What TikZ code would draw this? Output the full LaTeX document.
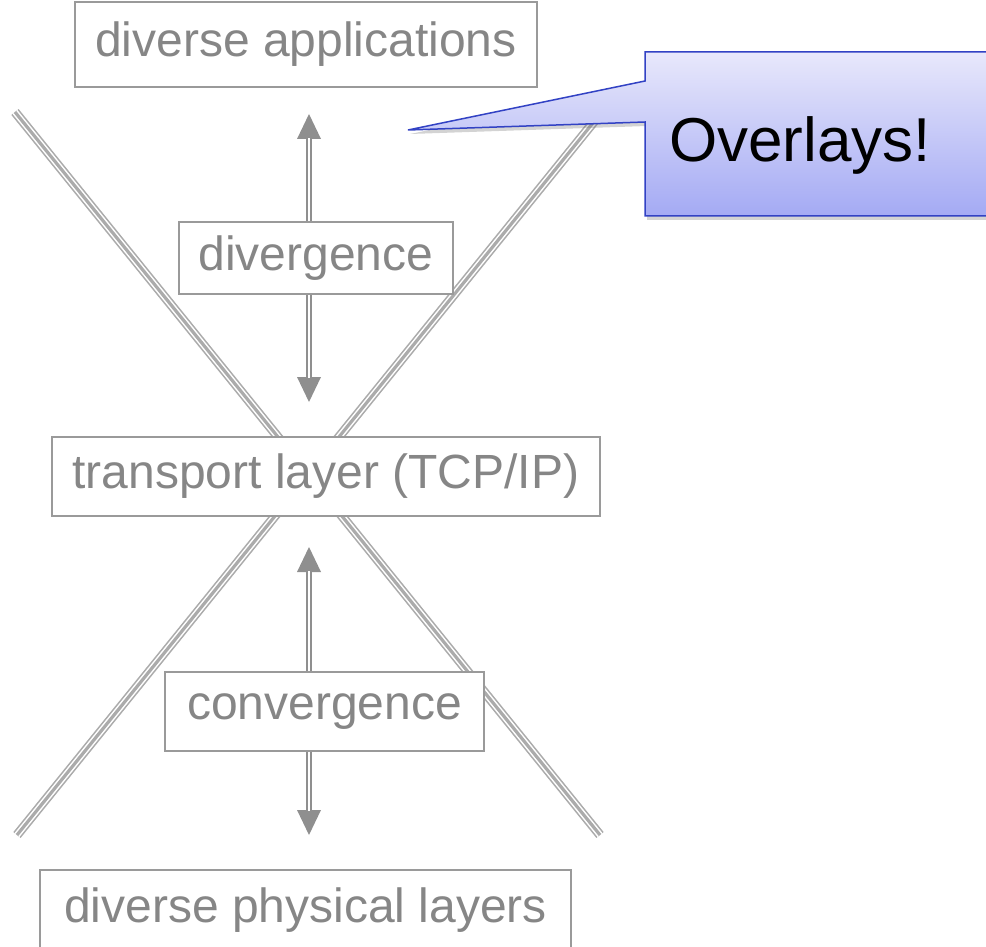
\documentclass[tikz,border=0pt]{standalone}
\usepackage{fontspec}
\setmainfont{Liberation Sans}
\usetikzlibrary{arrows.meta,shadows}
\definecolor{boxgray}{HTML}{9A9A9A}
\definecolor{txtgray}{HTML}{868686}
\definecolor{arrgray}{HTML}{8F8F8F}
\definecolor{xgray}{HTML}{ABABAB}
\definecolor{callborder}{HTML}{3242C4}
\definecolor{calltop}{HTML}{E8E8FB}
\definecolor{callbot}{HTML}{A4AAF4}
\tikzset{
  layerbox/.style={draw=boxgray, line width=1.6pt, fill=white, text=txtgray,
    font=\fontsize{48}{52}\selectfont, inner sep=0pt, anchor=center},
  xouter/.style={draw=xgray, line width=9.4pt},
  xinner/.style={draw=white, line width=6.2pt},
  xmid/.style={draw=xgray, line width=3.2pt},
  shaftout/.style={draw=arrgray, line width=6.5pt,
    -{Triangle[width=24pt,length=25pt,line width=0pt]}},
  shaftin/.style={draw=white, line width=2.4pt, shorten >=24pt},
}
\begin{document}
\begin{tikzpicture}[x=1pt,y=-1pt]
\useasboundingbox (0,0) rectangle (986,947);
% X lines
\coordinate (a1) at (15,112);
\coordinate (a2) at (600,835);
\coordinate (b1) at (17,835);
\coordinate (b2) at (601,113);
\foreach \s in {xouter,xinner,xmid}{
  \draw[\s] (a1) -- (a2);
  \draw[\s] (b1) -- (b2);
}
% boxes
\node[layerbox, minimum width=462pt, minimum height=85pt] (app) at (306,44.5) {diverse applications};
\node[layerbox, minimum width=274pt, minimum height=72pt] (div) at (316,258) {divergence};
\node[layerbox, minimum width=548pt, minimum height=79pt] (tcp) at (326,476.5) {transport layer (TCP/IP)};
\node[layerbox, minimum width=319pt, minimum height=79pt] (conv) at (324.5,711.5) {convergence};
\node[layerbox, minimum width=531pt, minimum height=80pt] (phys) at (305.5,910) {diverse physical layers};
% arrow tips
\coordinate (t1) at (309,114);
\coordinate (t2) at (309,402);
\coordinate (t3) at (309,547);
\coordinate (t4) at (309,835);
\coordinate (d1) at (309,258);
\coordinate (c1) at (309,711.5);
\draw[shaftout] (d1 |- div.north) -- (t1);
\draw[shaftin] (d1 |- div.north) -- (t1);
\draw[shaftout] (d1 |- div.south) -- (t2);
\draw[shaftin] (d1 |- div.south) -- (t2);
\draw[shaftout] (c1 |- conv.north) -- (t3);
\draw[shaftin] (c1 |- conv.north) -- (t3);
\draw[shaftout] (c1 |- conv.south) -- (t4);
\draw[shaftin] (c1 |- conv.south) -- (t4);
% callout
\coordinate (ctip) at (408,130);
\draw[draw=callborder, line width=1.5pt, top color=calltop, bottom color=callbot,
  drop shadow={shadow xshift=2pt, shadow yshift=-4pt, opacity=0.35}]
  (645,52) -- (992,52) -- (992,216) -- (645,216) -- (645,122) -- (ctip) -- (645,81) -- cycle;
\node[font=\fontsize{62}{66}\selectfont, text=black, inner sep=0pt] (ov) at (800,145) {Overlays!};
\end{tikzpicture}
\end{document}
